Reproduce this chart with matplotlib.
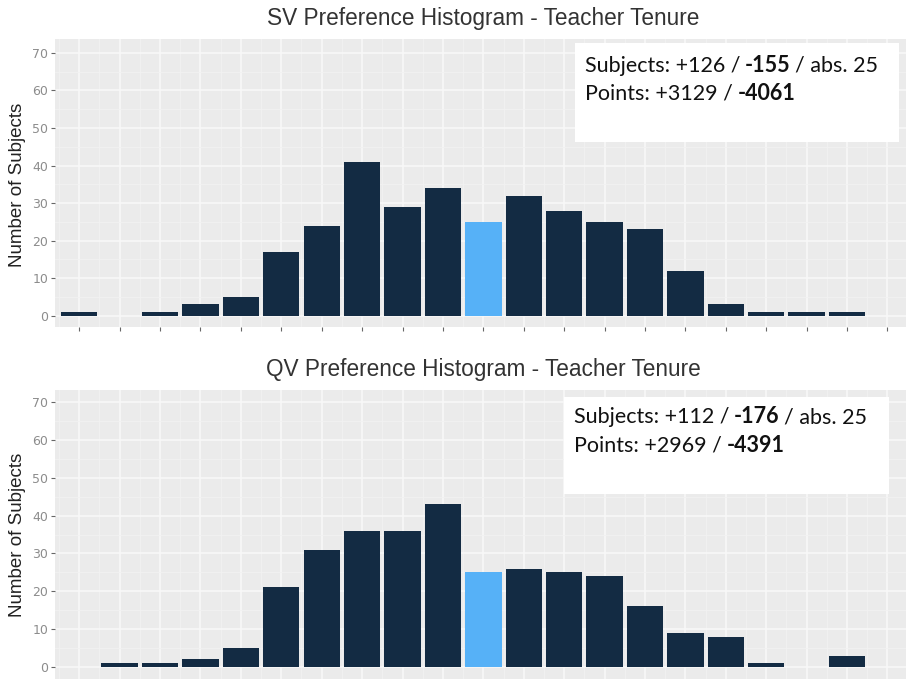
import matplotlib.pyplot as plt
from matplotlib.patches import Rectangle
from matplotlib.ticker import MultipleLocator

# bins around the neutral bin (index 10 is the "abs." bar)
positions = list(range(20))
sv_counts = [1, 0, 1, 3, 5, 17, 24, 41, 29, 34, 25, 32, 28, 25, 23, 12, 3, 1, 1, 1]
qv_counts = [0, 1, 1, 2, 5, 21, 31, 36, 36, 43, 25, 26, 25, 24, 16, 9, 8, 1, 0, 3]
neutral_bin = 10

titles = ["SV Preference Histogram - Teacher Tenure",
          "QV Preference Histogram - Teacher Tenure"]
# (text, bold) pieces, the gap between pieces is one space
sv_box = [[("Subjects: +126 /", False), ("-155", True), ("/ abs. 25", False)],
          [("Points: +3129 /", False), ("-4061", True)]]
qv_box = [[("Subjects: +112 /", False), ("-176", True), ("/ abs. 25", False)],
          [("Points: +2969 /", False), ("-4391", True)]]

dark = "#132B43"
light = "#56B1F7"

W, H = 906, 679
fig = plt.figure(figsize=(W / 100, H / 100), dpi=100)


def px(x0, y0, x1, y1):
    # pixel box (top-left origin) -> figure fraction rect
    return [x0 / W, 1 - y1 / H, (x1 - x0) / W, (y1 - y0) / H]


def panel(rect, counts, ylim):
    ax = fig.add_axes(rect)
    ax.set_facecolor("#EBEBEB")
    colors = [light if i == neutral_bin else dark for i in positions]
    ax.bar(positions, counts, width=0.9, color=colors, zorder=3)
    ax.set_xlim(-0.6, 20.46)
    ax.set_ylim(*ylim)
    ax.set_xticks(range(21))
    ax.set_xticklabels([])
    ax.xaxis.set_minor_locator(MultipleLocator(0.5))
    ax.set_yticks(range(0, 71, 10))
    ax.yaxis.set_minor_locator(MultipleLocator(5))
    ax.grid(which="major", color="#F8F8F8", linewidth=1.2, zorder=1)
    ax.grid(which="minor", color="#F2F2F2", linewidth=0.6, zorder=1)
    ax.tick_params(which="major", length=3, color="#666666", labelsize=9,
                   labelcolor="#8C8C8C", pad=2)
    ax.tick_params(which="minor", length=0)
    for s in ax.spines.values():
        s.set_visible(False)
    return ax


def box(x0, y0, x1, y1):
    fig.patches.append(Rectangle((x0 / W, 1 - y1 / H), (x1 - x0) / W, (y1 - y0) / H,
                                 transform=fig.transFigure, facecolor="white",
                                 edgecolor="none", zorder=5))


FS = 15.5
renderer = fig.canvas.get_renderer()
gap = 4.5


def rich_lines(lines, tx, ty, step):
    # draw regular / bold pieces one after another on each line
    for k, parts in enumerate(lines):
        x = tx
        y = ty + k * step
        for part, bold in parts:
            weight = "bold" if bold else "normal"
            t = fig.text(x / W, 1 - y / H, part, fontsize=FS, family="Lato",
                         weight=weight, color="#111111", va="baseline", zorder=6)
            x += t.get_window_extent(renderer).width + gap


ax1 = panel(px(55, 39, 906, 327), sv_counts, (-3.0, 73.7))
ax2 = panel(px(55, 390, 906, 679), qv_counts, (-3.2, 73.2))

fig.text(483 / W, 1 - 19 / H, titles[0], ha="center", va="center",
         fontsize=16.3, color="#333333", family="Liberation Sans")
fig.text(483 / W, 1 - 370 / H, titles[1], ha="center", va="center",
         fontsize=16.3, color="#333333", family="Liberation Sans")
fig.text(18 / W, 1 - 185 / H, "Number of Subjects", rotation=90, ha="center",
         va="center", fontsize=13.5, color="#222222", family="Liberation Sans")
fig.text(18 / W, 1 - 535 / H, "Number of Subjects", rotation=90, ha="center",
         va="center", fontsize=13.5, color="#222222", family="Liberation Sans")

box(575, 43, 899, 142)
rich_lines(sv_box, 585, 72, 28)
box(564, 397, 889, 494)
rich_lines(qv_box, 574, 423, 29)

fig.savefig("out.png", dpi=100)
